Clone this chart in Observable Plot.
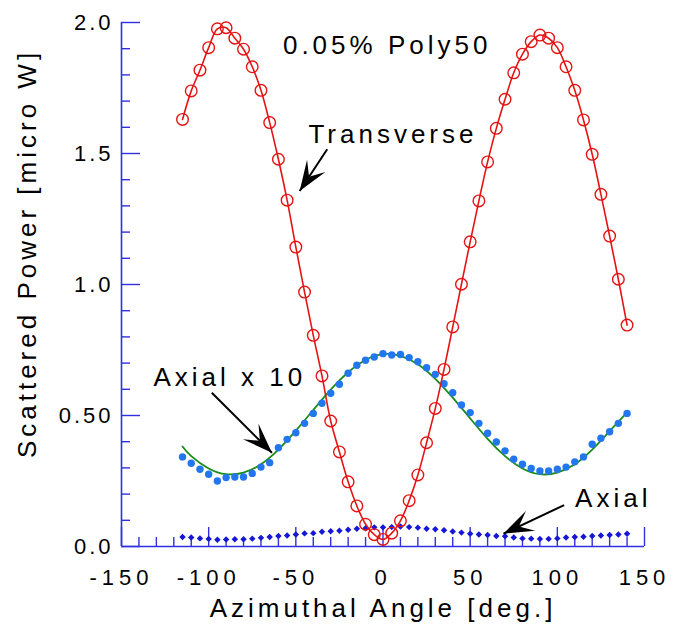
<!DOCTYPE html>
<html><head><meta charset="utf-8">
<script src="https://cdn.jsdelivr.net/npm/d3@7"></script>
<script src="https://cdn.jsdelivr.net/npm/@observablehq/plot@0.6"></script>
<style>
body{margin:0;background:#fff;}
#chart svg{font-family:"Liberation Sans",Arial,sans-serif;}
#chart svg text{letter-spacing:4px;}
#chart g[aria-label="y-axis tick label"] text{letter-spacing:3px;font-size:22px;}
#chart g[aria-label="x-axis tick label"] text{letter-spacing:5px;font-size:22px;}
</style></head><body><div id="chart"></div>
<script>
// ---- data ----
const angles = [-115,-110,-105,-100,-95,-90,-85,-80,-75,-70,-65,-60,
  -55,-50,-45,-40,-35,-30,-25,-20,-15,-10,-5,0,
  5,10,15,20,25,30,35,40,45,50,55,60,
  65,70,75,80,85,90,95,100,105,110,115,120,
  125,130,135,140];
const transverse = [1.630,1.739,1.818,1.904,1.976,1.980,1.940,1.898,1.831,1.741,1.618,1.478,
  1.322,1.143,0.971,0.806,0.651,0.479,0.361,0.247,0.155,0.085,0.045,0.027,
  0.051,0.098,0.175,0.273,0.396,0.527,0.676,0.838,1.001,1.163,1.319,1.468,
  1.596,1.707,1.808,1.879,1.927,1.952,1.940,1.904,1.831,1.741,1.628,1.497,
  1.344,1.185,1.020,0.845];
const axialX10 = [0.342,0.318,0.295,0.276,0.250,0.263,0.265,0.265,0.279,0.303,0.320,0.377,
  0.409,0.434,0.470,0.508,0.547,0.585,0.619,0.661,0.692,0.711,0.723,0.736,
  0.731,0.733,0.721,0.705,0.682,0.657,0.621,0.587,0.540,0.511,0.470,0.432,
  0.399,0.365,0.333,0.314,0.298,0.288,0.288,0.295,0.303,0.323,0.342,0.390,
  0.413,0.438,0.470,0.508];
const axial = [0.036,0.034,0.031,0.029,0.026,0.027,0.028,0.028,0.030,0.033,0.036,0.040,
  0.042,0.046,0.050,0.051,0.056,0.058,0.060,0.064,0.068,0.070,0.073,0.073,
  0.074,0.076,0.074,0.072,0.068,0.066,0.062,0.057,0.053,0.049,0.046,0.044,
  0.040,0.039,0.034,0.031,0.030,0.029,0.029,0.031,0.034,0.036,0.037,0.040,
  0.042,0.044,0.046,0.049];
const fitAngles = [-115,-110,-100,-90,-80,-70,-60,-50,-40,-30,-20,-10,0,10,20,30,40,50,60,70,80,90,100,110,120,130,140];
const fitAxialX10 = [0.382,0.345,0.298,0.276,0.282,0.314,0.370,0.442,0.521,0.599,0.665,0.712,0.734,0.728,0.696,0.640,0.568,0.489,0.411,0.345,0.298,0.276,0.282,0.314,0.370,0.440,0.512];

const xTickValues = [-150,-100,-50,0,50,100,150];
const xTickLabels = ["-150","-100","-50","0","50","100","150"];
const xMinorTicks = [-140,-130,-120,-110,-90,-80,-70,-60,-40,-30,-20,-10,10,20,30,40,60,70,80,90,110,120,130,140];
const yTickValues = [0,0.5,1.0,1.5,2.0];
const yTickLabels = ["0.0","0.50","1.0","1.5","2.0"];
const yMinorTicks = [0.1,0.2,0.3,0.4,0.6,0.7,0.8,0.9,1.1,1.2,1.3,1.4,1.6,1.7,1.8,1.9];

const xLabel = "Azimuthal Angle [deg.]";
const yLabel = "Scattered Power [micro W]";
const noteTexts = ["0.05% Poly50","Transverse","Axial x 10","Axial"];
const noteX = [-57.4,-42.8,-131.7,110.2];
const noteY = [1.910,1.570,0.644,0.182];
const arrowStartX = [-32.0,-98.2,103.9];
const arrowStartY = [1.516,0.587,0.158];
const arrowTipX = [-47.8,-63.7,69.1];
const arrowTipY = [1.357,0.358,0.049];

// ---- layout ----
const W = 673, H = 635, ML = 121, MR = 29, MT = 22, MB = 89;
const FW = W - ML - MR, FH = H - MT - MB;
const axisColor = "#3030e0";

const pts = angles.map((a,i) => ({a, t: transverse[i], ax10: axialX10[i], ax: axial[i]}));
const fit = fitAngles.map((a,i) => ({a, v: fitAxialX10[i]}));
const notes = noteTexts.map((t,i) => ({t, x: noteX[i], y: noteY[i]}));
const sx = FW / 300, sy = FH / 2;
const arrows = arrowStartX.map((x1,i) => {
  const dx = (arrowTipX[i] - x1) * sx, dy = -(arrowTipY[i] - arrowStartY[i]) * sy;
  return {x1, y1: arrowStartY[i], x2: arrowTipX[i], y2: arrowTipY[i], rot: Math.atan2(dy, dx) * 180 / Math.PI + 90};
});
const stealth = {draw(ctx) { const L = 30, w = 11, n = 17;
  ctx.moveTo(0,0); ctx.lineTo(w, L); ctx.lineTo(0, n); ctx.lineTo(-w, L); ctx.closePath(); }};

const chart = Plot.plot({
  width: W, height: H,
  marginLeft: ML, marginRight: MR, marginTop: MT, marginBottom: MB,
  x: {domain: [-150, 150], axis: null},
  y: {domain: [0, 2.0], axis: null},
  marks: [
    // axes
    Plot.ruleY(yMinorTicks, {y: d => d, insetRight: FW - 9, stroke: axisColor, strokeWidth: 1.4}),
    Plot.ruleY(yTickValues, {y: d => d, insetRight: FW - 19, stroke: axisColor, strokeWidth: 1.4}),
    Plot.ruleX(xMinorTicks, {x: d => d, insetTop: FH - 9, stroke: axisColor, strokeWidth: 1.4}),
    Plot.ruleX(xTickValues, {x: d => d, insetTop: FH - 19, stroke: axisColor, strokeWidth: 1.4}),
    Plot.ruleY([0], {stroke: axisColor, strokeWidth: 1.6}),
    Plot.ruleX([-150], {stroke: axisColor, strokeWidth: 1.6}),
    Plot.axisX(xTickValues, {tickSize: 0, tickPadding: 23, tickFormat: d => xTickLabels[xTickValues.indexOf(d)], label: null, fontSize: 22, fill: "black"}),
    Plot.axisY(yTickValues, {tickSize: 0, tickPadding: 8, tickFormat: d => yTickLabels[yTickValues.indexOf(d)], label: null, fontSize: 22, fill: "black"}),
    Plot.text([xLabel], {frameAnchor: "bottom", lineAnchor: "middle", textAnchor: "middle", dy: 62, fontSize: 26, fill: "black"}),
    Plot.text([yLabel], {frameAnchor: "left", lineAnchor: "middle", textAnchor: "middle", rotate: -90, dx: -94, dy: -31, fontSize: 26, fill: "black"}),
    // series
    Plot.line(fit, {x: "a", y: "v", stroke: "#1a8c1a", strokeWidth: 1.8, curve: "natural"}),
    Plot.dot(pts, {x: "a", y: "ax10", r: 3.7, fill: "#2277ee", stroke: "none"}),
    Plot.dot(pts, {x: "a", y: "ax", r: 2.9, symbol: "diamond2", fill: "#1616d6", stroke: "none"}),
    Plot.line(pts, {x: "a", y: "t", stroke: "#e41414", strokeWidth: 1.6, curve: "catmull-rom"}),
    Plot.dot(pts, {x: "a", y: "t", r: 5.8, stroke: "#e41414", strokeWidth: 1.4, fill: "none"}),
    // annotations
    Plot.text(notes, {x: "x", y: "y", text: "t", textAnchor: "start", fontSize: 26, fill: "black"}),
    Plot.link(arrows, {x1: "x1", y1: "y1", x2: "x2", y2: "y2", stroke: "black", strokeWidth: 2}),
    Plot.dot(arrows, {x: "x2", y: "y2", symbol: stealth, rotate: "rot", r: 10, fill: "black", stroke: "none"})
  ]
});
document.getElementById("chart").appendChild(chart);
</script></body></html>
